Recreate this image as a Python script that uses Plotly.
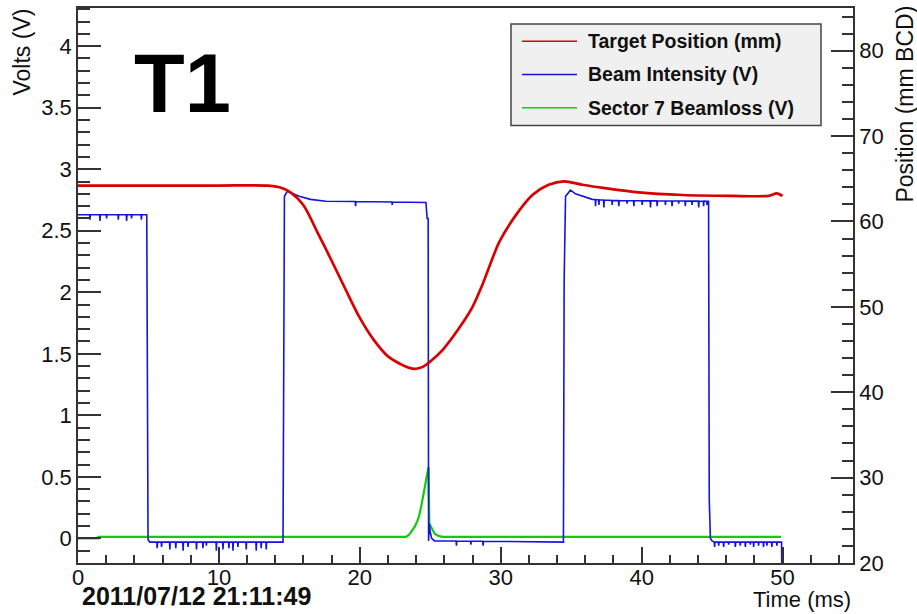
import numpy as np
import plotly.graph_objects as go

# ---------------- data ----------------
series_names = ["Target Position (mm)", "Beam Intensity (V)", "Sector 7 Beamloss (V)"]
series_colors = ["#d80000", "#1414dc", "#14c814"]

# Target position (mm BCD, right axis)
red_t = [0, 5, 10, 13.5, 14.3, 15.0, 16.0, 17.0, 18.0, 19.0, 20.0, 21.0, 22.0, 23.0,
         23.5, 24.0, 24.5, 25.0, 25.9, 27.0, 28.0, 28.7, 29.9, 31.1, 32.25, 33.4, 34.5, 35.8,
         37.4, 39.8, 42.9, 46.4, 49.0, 49.6, 50.0]
red_mm = [64.2, 64.2, 64.2, 64.2, 64.0, 63.5, 61.9, 58.7, 55.4, 52.0, 48.7, 46.1, 44.2, 43.2,
          42.85, 42.75, 43.0, 43.6, 45.0, 47.4, 50.0, 52.6, 57.6, 60.8, 63.1, 64.3, 64.7, 64.3,
          63.9, 63.4, 63.1, 63.0, 63.0, 63.3, 63.0]

# Beam intensity (V) knots
blue_t = [0, 4.88, 4.92, 4.97, 5.1, 14.55, 14.58, 14.65, 14.85, 15.3, 15.7, 16.5, 17.6,
          24.69, 24.78, 24.85, 24.88, 24.93, 25.0, 25.1, 25.3, 34.45, 34.5, 34.6, 34.95,
          35.3, 36.0, 36.5, 38.0, 44.75, 44.8, 44.88, 45.0, 45.2, 49.93, 49.96]
blue_v = [2.63, 2.63, 0.24, -0.01, -0.03, -0.03, 1.65, 2.78, 2.82, 2.80, 2.78, 2.755, 2.74,
          2.73, 2.60, 2.60, -0.02, 0.12, 0.05, 0.0, -0.02, -0.03, 2.09, 2.78, 2.83,
          2.80, 2.77, 2.755, 2.745, 2.74, 0.31, 0.0, -0.02, -0.03, -0.03, -0.35]
# Beam intensity noise spikes (time ms, value V)
blue_spike_t = [0.85, 1.56, 2.03, 2.86, 3.45, 3.8, 4.5,
                5.62, 5.93, 6.52, 6.94, 7.46, 7.81, 8.41, 8.87, 9.11, 9.82, 10.29, 10.71,
                11.0, 11.35, 11.94, 12.65, 13.0, 13.36,
                19.7, 22.3,
                26.86, 27.88, 28.75,
                36.73, 36.97, 37.32, 37.91, 38.38, 38.97, 39.45, 40.04, 40.63, 41.1,
                41.69, 42.16, 42.63, 43.1, 43.58, 44.05, 44.4, 44.64,
                45.18, 45.47, 45.82, 46.18, 46.65, 47.0, 47.36, 47.71, 47.95, 48.3,
                48.65, 48.89, 49.24, 49.6]
blue_spike_v = [2.59, 2.58, 2.60, 2.59, 2.58, 2.60, 2.59,
                -0.08, -0.07, -0.09, -0.08, -0.10, -0.07, -0.09, -0.08, -0.06, -0.10, -0.09, -0.08,
                -0.10, -0.07, -0.09, -0.10, -0.08, -0.09,
                2.70, 2.71,
                -0.06, -0.05, -0.06,
                2.70, 2.71, 2.69, 2.71, 2.70, 2.72, 2.70, 2.71, 2.69, 2.70,
                2.71, 2.70, 2.72, 2.70, 2.71, 2.69, 2.70, 2.71,
                -0.07, -0.06, -0.07, -0.05, -0.07, -0.06, -0.07, -0.05, -0.07, -0.06,
                -0.07, -0.06, -0.07, -0.06]

# Sector 7 beamloss (V)
green_t = [0, 1.4, 1.45, 23.28, 23.5, 23.75, 23.9, 24.1, 24.2, 24.34, 24.45, 24.58, 24.65,
           24.74, 24.82, 24.88, 24.93, 25.05, 25.16, 25.3, 25.5, 25.85, 49.9]
green_v = [0.0, 0.0, 0.012, 0.012, 0.03, 0.065, 0.095, 0.146, 0.18, 0.25, 0.31, 0.39, 0.44,
           0.50, 0.54, 0.58, 0.12, 0.09, 0.065, 0.04, 0.024, 0.012, 0.012]

x_range = [0, 55]
y_range = [-0.2, 4.31]
y2_range = [20, 85]

# ---------------- build blue polyline with spikes ----------------
pts = list(zip(blue_t, blue_v))
for t, v in zip(blue_spike_t, blue_spike_v):
    base = float(np.interp(t, blue_t, blue_v))
    pts += [(t - 0.025, base), (t, v), (t + 0.025, base)]
pts.sort(key=lambda p: p[0])
bx = [p[0] for p in pts]
by = [p[1] for p in pts]

FONT = "Liberation Sans, Arial, sans-serif"
W, H = 917, 614
ML, MR, MT, MB = 78, 64, 6, 51
PW, PH = W - ML - MR, H - MT - MB


def px_x(p):
    return (p - ML) / PW


def px_y(p):
    return (H - MB - p) / PH


fig = go.Figure()
fig.add_trace(go.Scatter(x=green_t, y=green_v, mode="lines", name=series_names[2],
                         line=dict(color=series_colors[2], width=2.2), showlegend=False))
fig.add_trace(go.Scatter(x=bx, y=by, mode="lines", name=series_names[1],
                         line=dict(color=series_colors[1], width=1.6), showlegend=False))
fig.add_trace(go.Scatter(x=red_t, y=red_mm, mode="lines", name=series_names[0], yaxis="y2",
                         line=dict(color=series_colors[0], width=2.7, shape="spline", smoothing=0.8),
                         showlegend=False))

axcol = "#333333"
fig.update_layout(
    width=W, height=H,
    margin=dict(l=ML, r=MR, t=MT, b=MB, pad=0),
    paper_bgcolor="white", plot_bgcolor="white",
    font=dict(family=FONT, size=22, color="#111111"),
    xaxis=dict(range=x_range, showgrid=False, zeroline=False, showline=True, mirror=True,
               linecolor=axcol, linewidth=1.5, ticks="inside", ticklen=16, tickwidth=1.5,
               tickcolor=axcol, dtick=10, tick0=0, ticklabelstandoff=-6,
               minor=dict(dtick=2, ticks="inside", ticklen=8, tickwidth=1.5, tickcolor=axcol,
                          showgrid=False),
               tickfont=dict(size=22)),
    yaxis=dict(range=y_range, showgrid=False, zeroline=False, showline=True,
               linecolor=axcol, linewidth=1.5, ticks="inside", ticklen=23, tickwidth=1.5,
               tickcolor=axcol, dtick=0.5, tick0=0,
               minor=dict(dtick=0.1, ticks="inside", ticklen=12, tickwidth=1.5, tickcolor=axcol,
                          showgrid=False),
               tickfont=dict(size=22)),
    yaxis2=dict(range=y2_range, overlaying="y", side="right", anchor="x", showgrid=False,
                zeroline=False, showline=True, linecolor=axcol, linewidth=1.5,
                ticks="inside", ticklen=22, tickwidth=1.5, tickcolor=axcol, dtick=10, tick0=0,
                minor=dict(dtick=2, ticks="inside", ticklen=11, tickwidth=1.5, tickcolor=axcol,
                           showgrid=False),
                tickfont=dict(size=22)),
    showlegend=False,
)

annotations = [
    dict(text="Volts (V)", textangle=-90, x=px_x(22), y=px_y(4), xanchor="center", yanchor="top",
         font=dict(size=23)),
    dict(text="Position (mm BCD)", textangle=-90, x=px_x(905), y=px_y(2), xanchor="center",
         yanchor="top", font=dict(size=23)),
    dict(text="Time (ms)", x=px_x(853), y=px_y(600), xanchor="right", yanchor="middle",
         font=dict(size=22)),
    dict(text="<b>2011/07/12 21:11:49</b>", x=px_x(80), y=px_y(596), xanchor="left",
         yanchor="middle", font=dict(size=25, color="#111111")),
    dict(text="<b>T1</b>", x=px_x(132), y=px_y(82), xanchor="left", yanchor="middle",
         font=dict(size=83, color="#000000")),
]
for a in annotations:
    a.update(xref="paper", yref="paper", showarrow=False)

# legend box drawn as shapes + text
shapes = [dict(type="rect", xref="paper", yref="paper", x0=px_x(511), x1=px_x(821),
               y0=px_y(124), y1=px_y(22), fillcolor="#f0f0f0",
               line=dict(color="#444444", width=1.5), layer="above")]
leg_y = [39.3, 72.7, 106.0]
for name, col, yy in zip(series_names, series_colors, leg_y):
    shapes.append(dict(type="line", xref="paper", yref="paper", x0=px_x(522), x1=px_x(577),
                       y0=px_y(yy), y1=px_y(yy), line=dict(color=col, width=1.5), layer="above"))
    annotations.append(dict(text="<b>" + name + "</b>", xref="paper", yref="paper",
                            x=px_x(586), y=px_y(yy), xanchor="left", yanchor="middle",
                            showarrow=False, font=dict(size=19.5, color="#111111")))

fig.update_layout(shapes=shapes, annotations=annotations)
fig.write_html("out.html")
